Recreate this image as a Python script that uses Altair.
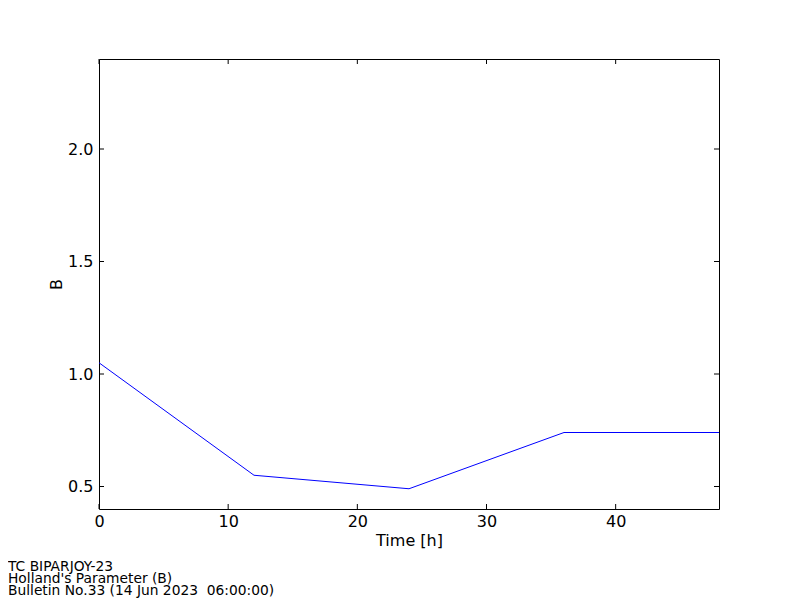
import altair as alt
import pandas as pd

time_h = [0, 12, 24, 36, 48]
b_values = [1.05, 0.55, 0.49, 0.74, 0.74]
x_ticks = [0, 10, 20, 30, 40]
y_ticks = [0.5, 1.0, 1.5, 2.0]
footer = ["TC BIPARJOY-23", "Holland's Parameter (B)", "Bulletin No.33 (14 Jun 2023 \u00a006:00:00)"]

W, H = 620, 450
FONT = "DejaVu Sans"

df = pd.DataFrame({"t": time_h, "b": b_values})
xt = pd.DataFrame({"t": x_ticks})
yt = pd.DataFrame({"b": y_ticks})

xs = alt.Scale(domain=[0, 48], nice=False, zero=False)
ys = alt.Scale(domain=[0.4, 2.4], nice=False, zero=False)

line = alt.Chart(df).mark_line(color="#0000ff", strokeWidth=1, clip=True).encode(
    x=alt.X("t:Q", scale=xs, title="Time [h]",
            axis=alt.Axis(values=x_ticks, ticks=False, domain=False, grid=False,
                          labelFont=FONT, labelFontSize=16, labelColor="black",
                          labelPadding=4, labelFlush=False, labelOverlap=False,
                          titleFont=FONT, titleFontSize=16,
                          titleFontWeight="normal", titleColor="black", titlePadding=3,
                          format="d")),
    y=alt.Y("b:Q", scale=ys, title="B",
            axis=alt.Axis(values=y_ticks, ticks=False, domain=False, grid=False,
                          labelFont=FONT, labelFontSize=16, labelColor="black",
                          labelPadding=6, labelFlush=False, labelOverlap=False,
                          titleFont=FONT, titleFontSize=16,
                          titleFontWeight="normal", titleColor="black", titlePadding=3,
                          format=".1f")),
)

xb = alt.Chart(xt).mark_rule(color="black", strokeWidth=1).encode(
    x=alt.X("t:Q", scale=xs), y=alt.value(H), y2=alt.value(H - 5))
xtop = alt.Chart(xt).mark_rule(color="black", strokeWidth=1).encode(
    x=alt.X("t:Q", scale=xs), y=alt.value(0), y2=alt.value(5))
yl = alt.Chart(yt).mark_rule(color="black", strokeWidth=1).encode(
    y=alt.Y("b:Q", scale=ys), x=alt.value(0), x2=alt.value(5))
yr = alt.Chart(yt).mark_rule(color="black", strokeWidth=1).encode(
    y=alt.Y("b:Q", scale=ys), x=alt.value(W), x2=alt.value(W - 5))

foot_layers = []
for i, txt in enumerate(footer):
    foot_layers.append(
        alt.Chart(pd.DataFrame({"txt": [txt]})).mark_text(
            align="left", baseline="alphabetic", font=FONT, fontSize=13.8, color="black"
        ).encode(x=alt.value(-91), y=alt.value(512 + 12 * i), text="txt:N")
    )

chart = alt.layer(line, xb, xtop, yl, yr, *foot_layers).properties(
    width=W, height=H,
    autosize=alt.AutoSizeParams(type="none"),
    padding={"left": 91, "top": 51, "right": 73, "bottom": 90},
).configure(background="white").configure_view(stroke="black", strokeWidth=1)

chart.save("out.html", embed_options={"renderer": "svg", "actions": False})
